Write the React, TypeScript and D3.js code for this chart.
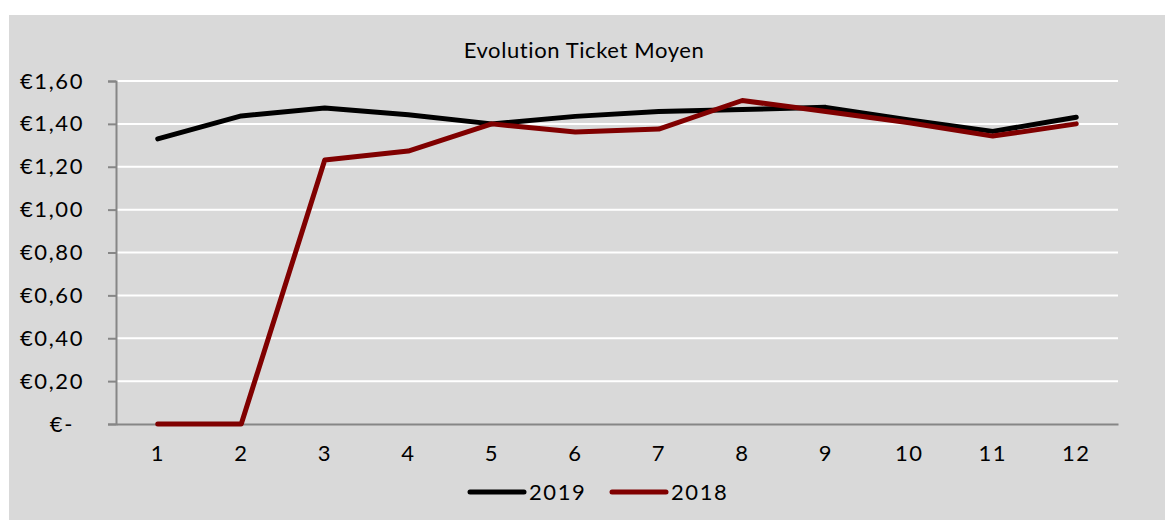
import React, { useEffect, useRef } from 'react';
import * as d3 from 'd3';

// Monthly average ticket values
const months = ['1', '2', '3', '4', '5', '6', '7', '8', '9', '10', '11', '12'];
const values2019 = [1.33, 1.437, 1.474, 1.443, 1.40, 1.435, 1.458, 1.467, 1.477, 1.418, 1.365, 1.431];
const values2018 = [0, 0, 1.231, 1.273, 1.40, 1.362, 1.376, 1.509, 1.458, 1.405, 1.343, 1.40];
const yTicks = [0, 0.2, 0.4, 0.6, 0.8, 1.0, 1.2, 1.4, 1.6];
const seriesNames = ['2019', '2018'];
const seriesColors = ['#000000', '#800000'];

const W = 1165;
const H = 520;
const FONT = 'Lato, sans-serif';

const App = () => {
    const ref = useRef<SVGSVGElement>(null);

    useEffect(() => {
        const svg = d3.select(ref.current);
        svg.selectAll('*').remove();

        const left = 116, right = 1118, top = 81, bottom = 424;

        // background panel
        svg.append('rect')
            .attr('x', 9).attr('y', 15)
            .attr('width', W - 9).attr('height', H - 15)
            .attr('fill', '#d9d9d9');

        const x = d3.scaleBand().domain(months).range([left, right]);
        const y = d3.scaleLinear().domain([0, 1.6]).range([bottom, top]);

        // gridlines
        svg.append('g')
            .selectAll('line')
            .data(yTicks.filter(d => d > 0))
            .enter()
            .append('line')
            .attr('x1', left).attr('x2', right)
            .attr('y1', d => y(d)).attr('y2', d => y(d))
            .attr('stroke', '#ffffff')
            .attr('stroke-width', 2);

        // y axis
        const yAxis = svg.append('g')
            .attr('transform', `translate(${left},0)`)
            .call(d3.axisLeft(y).tickValues(yTicks).tickSize(8).tickPadding(24)
                .tickFormat(d => (+d === 0 ? '€-' : '€' + d3.format('.2f')(+d).replace('.', ','))));
        yAxis.select('.domain').attr('stroke', '#868686').attr('stroke-width', 2);
        yAxis.selectAll('.tick line').attr('stroke', '#868686').attr('stroke-width', 2);
        yAxis.selectAll('.tick text')
            .attr('font-family', FONT).attr('font-size', 22).attr('fill', '#000')
            .attr('letter-spacing', 1.6);
        yAxis.selectAll('.tick').filter(d => +d === 0).select('text').attr('dx', -10);

        // x axis
        const xAxis = svg.append('g')
            .attr('transform', `translate(0,${bottom})`)
            .call(d3.axisBottom(x).tickSize(0).tickPadding(21));
        xAxis.select('.domain').attr('stroke', '#868686').attr('stroke-width', 2);
        xAxis.selectAll('.tick text')
            .attr('font-family', FONT).attr('font-size', 22).attr('fill', '#000')
            .attr('letter-spacing', 1.5);

        // lines
        const line = d3.line<number>()
            .x((d, i) => (x(months[i]) as number) + x.bandwidth() / 2)
            .y(d => y(d));

        [values2019, values2018].forEach((vals, i) => {
            svg.append('path')
                .datum(vals)
                .attr('d', line)
                .attr('fill', 'none')
                .attr('stroke', seriesColors[i])
                .attr('stroke-width', 5)
                .attr('stroke-linecap', 'round')
                .attr('stroke-linejoin', 'round');
        });

        // title
        svg.append('text')
            .attr('x', 584).attr('y', 58)
            .attr('text-anchor', 'middle')
            .attr('font-family', FONT).attr('font-size', 22)
            .attr('letter-spacing', 0.6)
            .attr('fill', '#000')
            .text('Evolution Ticket Moyen');

        // legend
        const legend = svg.append('g');
        const legendX = [470, 612];
        seriesNames.forEach((name, i) => {
            legend.append('line')
                .attr('x1', legendX[i]).attr('x2', legendX[i] + 54)
                .attr('y1', 492).attr('y2', 492)
                .attr('stroke', seriesColors[i])
                .attr('stroke-width', 5)
                .attr('stroke-linecap', 'round');
            legend.append('text')
                .attr('x', legendX[i] + 59).attr('y', 500)
                .attr('font-family', FONT).attr('font-size', 22)
                .attr('letter-spacing', 1.6)
                .attr('fill', '#000')
                .text(name);
        });
    }, []);

    return (
        <svg ref={ref} width={W} height={H}
            style={{ position: 'absolute', left: 0, top: 0, display: 'block' }} />
    );
};

export default App;
